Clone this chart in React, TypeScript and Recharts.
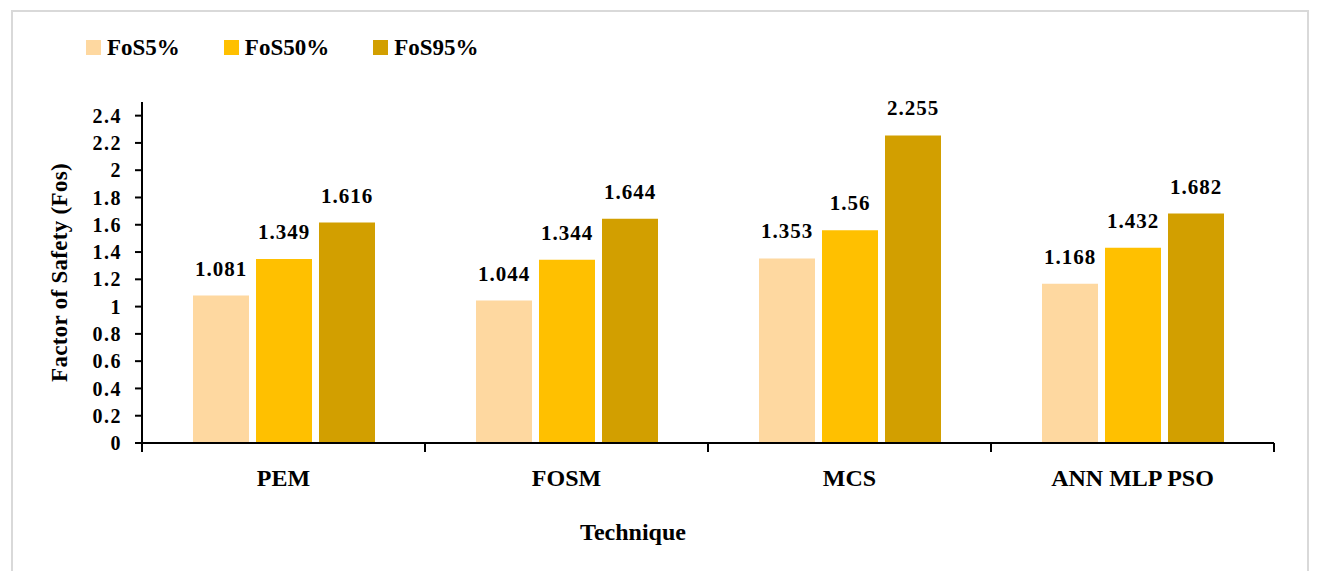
import React from 'react'
import { BarChart, Bar, XAxis, YAxis, LabelList } from 'recharts'

const techniques = ['PEM', 'FOSM', 'MCS', 'ANN MLP PSO']
const fos5 = [1.081, 1.044, 1.353, 1.168]
const fos50 = [1.349, 1.344, 1.56, 1.432]
const fos95 = [1.616, 1.644, 2.255, 1.682]
const yTicks = [0, 0.2, 0.4, 0.6, 0.8, 1, 1.2, 1.4, 1.6, 1.8, 2, 2.2, 2.4]

const seriesList = [
  { key: 'fos5', name: 'FoS5%', color: '#FED8A0' },
  { key: 'fos50', name: 'FoS50%', color: '#FFC000' },
  { key: 'fos95', name: 'FoS95%', color: '#D29F00' },
]

const chartData = techniques.map((t, i) => ({
  technique: t,
  fos5: fos5[i],
  fos50: fos50[i],
  fos95: fos95[i],
}))

const FONT = '"Liberation Serif", "Times New Roman", serif'

function CategoryTick(props: any) {
  const { x, y, payload } = props
  const half = payload.offset || 0
  const isLast = payload.value === techniques[techniques.length - 1]
  return (
    <g>
      <line x1={x - half} x2={x - half} y1={y} y2={y + 9} stroke="#000" strokeWidth={2} />
      {isLast && (
        <line x1={x + half} x2={x + half} y1={y} y2={y + 9} stroke="#000" strokeWidth={2} />
      )}
      <text
        x={x}
        y={y + 43}
        textAnchor="middle"
        fill="#000"
        style={{ fontFamily: FONT, fontWeight: 700, fontSize: 24 }}
      >
        {payload.value}
      </text>
    </g>
  )
}

export default function App() {
  return (
    <div
      style={{
        position: 'relative',
        left: 3,
        top: 2,
        width: 1298,
        height: 563,
        border: '2px solid #d9d9d9',
        boxSizing: 'border-box',
        background: '#fff',
      }}
    >
      {/* legend */}
      <div
        style={{
          position: 'absolute',
          left: 73,
          top: 24,
          display: 'flex',
          alignItems: 'center',
          fontFamily: FONT,
          fontWeight: 700,
          fontSize: 23,
          lineHeight: 1,
          zIndex: 2,
        }}
      >
        {seriesList.map((s) => (
          <div key={s.key} style={{ display: 'flex', alignItems: 'center', marginRight: 44 }}>
            <span
              style={{ display: 'inline-block', width: 15, height: 15, background: s.color, marginRight: 6 }}
            />
            <span>{s.name}</span>
          </div>
        ))}
      </div>

      <div style={{ position: 'absolute', left: 0, top: 0 }}>
        <BarChart
          width={1294}
          height={559}
          data={chartData}
          margin={{ top: 90, right: 33, bottom: 0, left: 0 }}
          barSize={56}
          barGap={7}
        >
          <XAxis
            dataKey="technique"
            height={128}
            axisLine={{ stroke: '#000', strokeWidth: 2 }}
            tickLine={false}
            tickSize={0}
            tickMargin={0}
            interval={0}
            tick={<CategoryTick />}
            label={{
              content: ({ viewBox }: any) => (
                <text
                  x={viewBox.x + viewBox.width / 2 - 75}
                  y={viewBox.y + 97}
                  textAnchor="middle"
                  fill="#000"
                  style={{ fontFamily: FONT, fontWeight: 700, fontSize: 24 }}
                >
                  Technique
                </text>
              ),
            }}
          />
          <YAxis
            width={129}
            domain={[0, 2.5]}
            ticks={yTicks}
            interval={0}
            tickFormatter={(v: number) => String(v)}
            axisLine={{ stroke: '#000', strokeWidth: 2 }}
            tickLine={{ stroke: '#000', strokeWidth: 2 }}
            tickSize={7}
            tickMargin={13}
            tick={{
              fill: '#000',
              fontFamily: FONT,
              fontWeight: 700,
              fontSize: 20,
              letterSpacing: 1.5,
            }}
            label={{
              content: ({ viewBox }: any) => {
                const cx = viewBox.x + 54
                const cy = viewBox.y + viewBox.height / 2
                return (
                  <text
                    x={cx}
                    y={cy}
                    transform={`rotate(-90, ${cx}, ${cy})`}
                    textAnchor="middle"
                    fill="#000"
                    style={{ fontFamily: FONT, fontWeight: 700, fontSize: 23, letterSpacing: 0.3 }}
                  >
                    Factor of Safety (Fos)
                  </text>
                )
              },
            }}
          />
          {seriesList.map((s) => (
            <Bar key={s.key} dataKey={s.key} name={s.name} fill={s.color} isAnimationActive={false}>
              <LabelList
                dataKey={s.key}
                position="top"
                offset={20}
                formatter={(v: any) => String(v)}
                style={{
                  fill: '#000',
                  fontFamily: FONT,
                  fontWeight: 700,
                  fontSize: 21,
                  letterSpacing: 1,
                }}
              />
            </Bar>
          ))}
        </BarChart>
      </div>
    </div>
  )
}
